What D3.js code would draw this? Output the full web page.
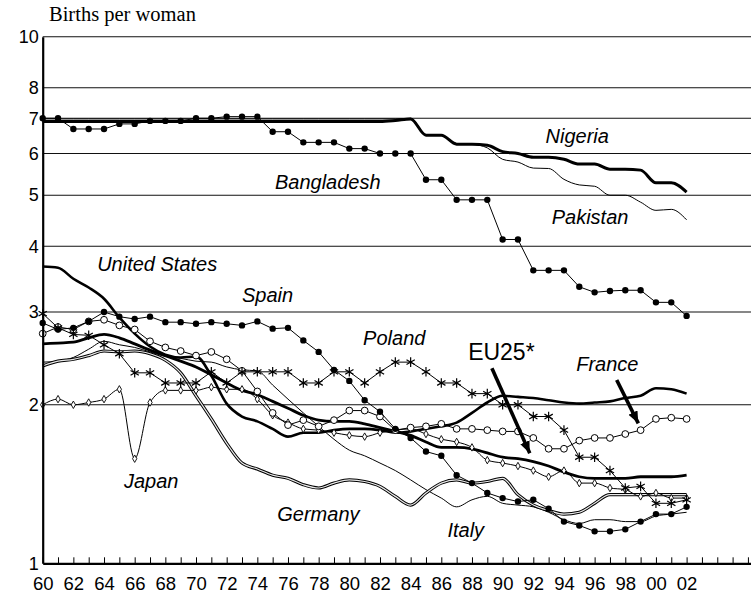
<!DOCTYPE html>
<html>
<head>
<meta charset="utf-8">
<script src="https://cdn.jsdelivr.net/npm/d3@7"></script>
<style>
  body { margin: 0; background: #fff; }
  svg { display: block; }
</style>
</head>
<body>
<div id="container"></div>
<script>
/** CONSTANTS AND GLOBALS */
const width = 751,
  height = 595,
  margin = { top: 37, bottom: 32, left: 43, right: 0 };

/** DATA */
const years = [1960, 1961, 1962, 1963, 1964, 1965, 1966, 1967, 1968, 1969,
  1970, 1971, 1972, 1973, 1974, 1975, 1976, 1977, 1978, 1979,
  1980, 1981, 1982, 1983, 1984, 1985, 1986, 1987, 1988, 1989,
  1990, 1991, 1992, 1993, 1994, 1995, 1996, 1997, 1998, 1999,
  2000, 2001, 2002];

const nigeria = [6.9, 6.9, 6.9, 6.9, 6.9, 6.9, 6.9, 6.9, 6.9, 6.9,
  6.9, 6.9, 6.9, 6.9, 6.9, 6.9, 6.9, 6.9, 6.9, 6.9,
  6.9, 6.9, 6.9, 6.93, 6.98, 6.5, 6.5, 6.25, 6.25, 6.22,
  6.05, 6.0, 5.9, 5.9, 5.85, 5.73, 5.73, 5.6, 5.6, 5.58,
  5.28, 5.28, 5.07];

const pakistan = [6.98, 6.98, 6.98, 6.98, 6.98, 6.98, 6.98, 6.98, 6.98, 6.98,
  6.98, 6.98, 6.98, 6.98, 6.98, 6.98, 6.98, 6.98, 6.98, 6.98,
  6.98, 6.98, 6.98, 6.98, 7.0, 6.52, 6.5, 6.27, 6.25, 6.15,
  5.85, 5.78, 5.63, 5.62, 5.36, 5.23, 5.2, 5.0, 5.0, 4.85,
  4.68, 4.7, 4.49];

const bangladesh = [7.0, 7.0, 6.68, 6.68, 6.68, 6.83, 6.83, 6.92, 6.92, 6.92,
  7.0, 7.0, 7.05, 7.05, 7.05, 6.6, 6.6, 6.3, 6.3, 6.3,
  6.13, 6.13, 6.0, 6.0, 6.0, 5.35, 5.35, 4.9, 4.9, 4.9,
  4.12, 4.12, 3.6, 3.6, 3.6, 3.35, 3.27, 3.29, 3.3, 3.3,
  3.13, 3.13, 2.95];

const unitedStates = [3.66, 3.64, 3.47, 3.34, 3.18, 2.93, 2.73, 2.58, 2.49, 2.46,
  2.47, 2.27, 2.01, 1.9, 1.86, 1.8, 1.74, 1.77, 1.77, 1.79,
  1.8, 1.8, 1.79, 1.77, 1.78, 1.8, 1.82, 1.85, 1.93, 2.02,
  2.08, 2.07, 2.06, 2.04, 2.02, 2.01, 2.02, 2.03, 2.06, 2.08,
  2.15, 2.14, 2.1];

const eu25 = [2.61, 2.62, 2.63, 2.68, 2.72, 2.68, 2.61, 2.54, 2.48, 2.42,
  2.36, 2.28, 2.2, 2.13, 2.09, 2.03, 1.97, 1.91, 1.87, 1.86,
  1.86, 1.84, 1.81, 1.78, 1.75, 1.7, 1.66, 1.66, 1.65, 1.62,
  1.59, 1.58, 1.56, 1.53, 1.49, 1.46, 1.45, 1.45, 1.45, 1.46,
  1.46, 1.46, 1.47];

const spain = [2.86, 2.78, 2.8, 2.88, 3.0, 2.94, 2.91, 2.94, 2.87, 2.87,
  2.85, 2.87, 2.85, 2.83, 2.88, 2.79, 2.8, 2.65, 2.52, 2.33,
  2.22, 2.04, 1.94, 1.8, 1.73, 1.63, 1.6, 1.47, 1.42, 1.36,
  1.33, 1.31, 1.32, 1.27, 1.2, 1.18, 1.15, 1.15, 1.16, 1.2,
  1.24, 1.24, 1.28];

const france = [2.73, 2.81, 2.78, 2.88, 2.9, 2.83, 2.78, 2.64, 2.57, 2.53,
  2.48, 2.52, 2.44, 2.32, 2.12, 1.93, 1.83, 1.87, 1.82, 1.87,
  1.95, 1.95, 1.9, 1.79, 1.81, 1.82, 1.84, 1.8, 1.8, 1.79,
  1.78, 1.78, 1.73, 1.65, 1.65, 1.71, 1.73, 1.73, 1.76, 1.79,
  1.88, 1.89, 1.88];

const japan = [2.0, 2.05, 2.0, 2.02, 2.05, 2.14, 1.58, 2.02, 2.13, 2.13,
  2.13, 2.16, 2.14, 2.14, 2.05, 1.91, 1.85, 1.8, 1.79, 1.77,
  1.75, 1.74, 1.77, 1.79, 1.8, 1.76, 1.72, 1.7, 1.66, 1.57,
  1.55, 1.53, 1.5, 1.46, 1.5, 1.42, 1.42, 1.39, 1.38, 1.34,
  1.36, 1.33, 1.33];

const poland = [2.98, 2.8, 2.72, 2.71, 2.6, 2.5, 2.3, 2.3, 2.2, 2.2,
  2.2, 2.31, 2.2, 2.31, 2.31, 2.31, 2.31, 2.2, 2.2, 2.31,
  2.31, 2.2, 2.31, 2.41, 2.41, 2.31, 2.2, 2.2, 2.1, 2.1,
  2.0, 2.0, 1.9, 1.9, 1.79, 1.59, 1.59, 1.5, 1.39, 1.4,
  1.3, 1.3, 1.32];

const germany = [2.37, 2.42, 2.44, 2.48, 2.53, 2.52, 2.53, 2.5, 2.43, 2.3,
  2.08, 1.88, 1.69, 1.55, 1.51, 1.47, 1.45, 1.41, 1.39, 1.42,
  1.44, 1.43, 1.4, 1.34, 1.29, 1.36, 1.42, 1.44, 1.42, 1.43,
  1.45, 1.35, 1.29, 1.26, 1.24, 1.25, 1.3, 1.35, 1.35, 1.35,
  1.35, 1.35, 1.35];

const italy = [2.41, 2.42, 2.46, 2.55, 2.64, 2.6, 2.57, 2.52, 2.47, 2.45,
  2.42, 2.41, 2.36, 2.33, 2.32, 2.18, 2.05, 1.93, 1.82, 1.72,
  1.64, 1.6, 1.55, 1.5, 1.44, 1.38, 1.33, 1.28, 1.32, 1.34,
  1.3, 1.29, 1.28, 1.25, 1.21, 1.19, 1.21, 1.21, 1.2, 1.2,
  1.23, 1.24, 1.25];

const yTickValues = [1, 2, 3, 4, 5, 6, 7, 8, 10];
const gridValues = [2, 3, 4, 5, 6, 7, 8, 10];
const xTickYears = [1960, 1961, 1962, 1963, 1964, 1965, 1966, 1967, 1968, 1969,
  1970, 1971, 1972, 1973, 1974, 1975, 1976, 1977, 1978, 1979,
  1980, 1981, 1982, 1983, 1984, 1985, 1986, 1987, 1988, 1989,
  1990, 1991, 1992, 1993, 1994, 1995, 1996, 1997, 1998, 1999,
  2000, 2001, 2002, 2003, 2004, 2005, 2006];
const xTickLabels = ["60", "62", "64", "66", "68", "70", "72", "74", "76", "78", "80",
  "82", "84", "86", "88", "90", "92", "94", "96", "98", "00", "02"];

// series labels, placed at (year, births per woman)
const labelNames = ["Nigeria", "Pakistan", "Bangladesh", "United States", "Spain",
  "Poland", "EU25*", "France", "Japan", "Germany", "Italy"];
const labelYears = [1992.8, 1993.2, 1975.15, 1963.55, 1973.0, 1980.9, 1987.75, 1994.8, 1965.3, 1975.3, 1986.4];
const labelValues = [6.28, 4.41, 5.14, 3.59, 3.13, 2.6, 2.43, 2.32, 1.39, 1.203, 1.122];

// arrows: [year, value] start and tip
const arrowStarts = [[1989.3, 2.346], [1997.44, 2.229]];
const arrowTips = [[1991.77, 1.618], [1998.85, 1.844]];

/** SERIES STYLES */
const series = [
  { name: "Italy", values: italy, width: 1, curve: d3.curveMonotoneX },
  { name: "Germany", values: germany, width: 3.2, double: true, curve: d3.curveMonotoneX },
  { name: "Pakistan", values: pakistan, width: 1, curve: d3.curveMonotoneX },
  { name: "Nigeria", values: nigeria, width: 3, curve: d3.curveMonotoneX },
  { name: "United States", values: unitedStates, width: 2.6, curve: d3.curveMonotoneX },
  { name: "EU25", values: eu25, width: 2.8, curve: d3.curveMonotoneX },
  { name: "Japan", values: japan, width: 1, curve: d3.curveMonotoneX, marker: "diamond" },
  { name: "France", values: france, width: 1, curve: d3.curveLinear, marker: "circle" },
  { name: "Poland", values: poland, width: 1, curve: d3.curveLinear, marker: "asterisk" },
  { name: "Spain", values: spain, width: 1, curve: d3.curveLinear, marker: "dot" },
  { name: "Bangladesh", values: bangladesh, width: 1, curve: d3.curveLinear, marker: "dot" }
];

init();

/** INITIALIZING FUNCTION */
function init() {
  const svg = d3.select("#container")
    .append("svg")
    .attr("width", width)
    .attr("height", height);

  const xScale = d3.scaleLinear()
    .domain([1960, 2006.2])
    .range([margin.left - 0.3, width - margin.right]);

  const yScale = d3.scaleLog()
    .domain([1, 10])
    .range([height - margin.bottom + 0.3, margin.top - 0.3]);

  // gridlines
  svg.append("g")
    .selectAll("line")
    .data(gridValues)
    .join("line")
    .attr("x1", xScale(1960))
    .attr("x2", width)
    .attr("y1", d => yScale(d))
    .attr("y2", d => yScale(d))
    .attr("stroke", "#111")
    .attr("stroke-width", 1.1);

  // title
  svg.append("text")
    .attr("x", 49)
    .attr("y", 21)
    .attr("font-family", "'Liberation Serif', 'Times New Roman', serif")
    .attr("font-size", 20.5)
    .text("Births per woman");

  // lines
  series.forEach(s => {
    const line = d3.line()
      .x((d, i) => xScale(years[i]))
      .y(d => yScale(d))
      .curve(s.curve);

    svg.append("path")
      .datum(s.values)
      .attr("fill", "none")
      .attr("stroke", "#000")
      .attr("stroke-width", s.width)
      .attr("stroke-linejoin", "round")
      .attr("d", line);

    if (s.double) {
      svg.append("path")
        .datum(s.values)
        .attr("fill", "none")
        .attr("stroke", "#e8e8e8")
        .attr("stroke-width", 1.2)
        .attr("d", line);
    }

    if (s.marker) {
      const pts = svg.append("g")
        .selectAll("path")
        .data(s.values)
        .join("path")
        .attr("transform", (d, i) => `translate(${xScale(years[i])},${yScale(d)})`);

      if (s.marker === "dot") {
        pts.attr("d", d3.symbol(d3.symbolCircle, 32)).attr("fill", "#000");
      } else if (s.marker === "circle") {
        pts.attr("d", d3.symbol(d3.symbolCircle, 36))
          .attr("fill", "#fff").attr("stroke", "#000").attr("stroke-width", 1);
      } else if (s.marker === "diamond") {
        pts.attr("d", d3.symbol(d3.symbolDiamond, 16))
          .attr("fill", "#fff").attr("stroke", "#000").attr("stroke-width", 0.9);
      } else if (s.marker === "asterisk") {
        pts.attr("d", d3.symbol(d3.symbolAsterisk, 64))
          .attr("fill", "none").attr("stroke", "#000").attr("stroke-width", 1.2);
      }
    }
  });

  // axes
  const yAxis = d3.axisLeft(yScale)
    .tickValues(yTickValues)
    .tickFormat(d3.format("d"))
    .tickSize(0)
    .tickPadding(4);

  svg.append("g")
    .attr("transform", `translate(${xScale(1960)},0)`)
    .call(yAxis)
    .call(g => g.select(".domain").attr("stroke-width", 2.2))
    .call(g => g.selectAll("text")
      .attr("font-family", "'Liberation Sans', Arial, sans-serif")
      .attr("font-size", 18)
      .attr("fill", "#000"));

  const xAxis = d3.axisBottom(xScale)
    .tickValues(xTickYears)
    .tickSizeInner(-6)
    .tickSizeOuter(0)
    .tickPadding(14)
    .tickFormat(d => {
      const k = xTickYears.indexOf(d);
      return k % 2 === 0 && xTickLabels[k / 2] ? xTickLabels[k / 2] : "";
    });

  svg.append("g")
    .attr("transform", `translate(0,${yScale(1)})`)
    .call(xAxis)
    .call(g => g.select(".domain").attr("stroke-width", 2.2))
    .call(g => g.selectAll(".tick line").attr("stroke-width", 1))
    .call(g => g.selectAll("text")
      .attr("font-family", "'Liberation Sans', Arial, sans-serif")
      .attr("font-size", 18.5)
      .attr("fill", "#000"));

  // arrows
  svg.append("defs").append("marker")
    .attr("id", "head")
    .attr("markerUnits", "userSpaceOnUse")
    .attr("viewBox", "0 0 12 10")
    .attr("refX", 12)
    .attr("refY", 5)
    .attr("markerWidth", 12)
    .attr("markerHeight", 10)
    .attr("orient", "auto")
    .append("path")
    .attr("d", "M0,0L12,5L0,10Z")
    .attr("fill", "#000");

  svg.append("g")
    .selectAll("line")
    .data(arrowStarts)
    .join("line")
    .attr("x1", d => xScale(d[0]))
    .attr("y1", d => yScale(d[1]))
    .attr("x2", (d, i) => xScale(arrowTips[i][0]))
    .attr("y2", (d, i) => yScale(arrowTips[i][1]))
    .attr("stroke", "#000")
    .attr("stroke-width", 3.6)
    .attr("marker-end", "url(#head)");

  // series labels
  svg.append("g")
    .selectAll("text")
    .data(labelNames)
    .join("text")
    .attr("x", (d, i) => xScale(labelYears[i]))
    .attr("y", (d, i) => yScale(labelValues[i]))
    .attr("font-family", "'Liberation Sans', Arial, sans-serif")
    .attr("font-size", d => d === "EU25*" ? 23 : 20)
    .attr("font-style", d => d === "EU25*" ? "normal" : "italic")
    .text(d => d);
}
</script>
</body>
</html>
